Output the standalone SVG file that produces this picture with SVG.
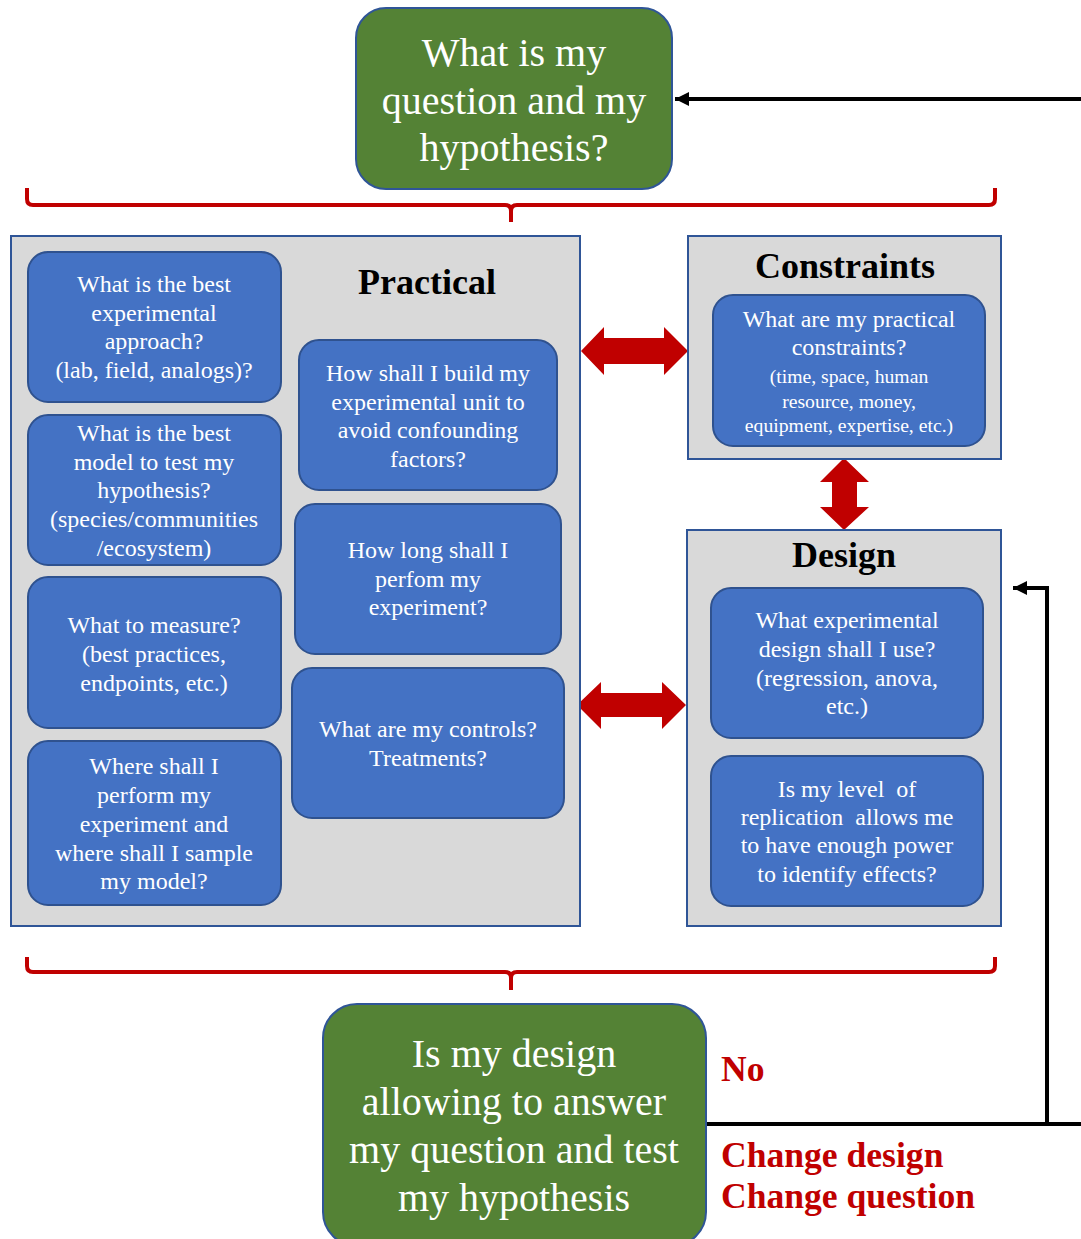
<svg xmlns="http://www.w3.org/2000/svg" width="1081" height="1239" viewBox="0 0 1081 1239">
<style>
.panel{fill:#D9D9D9;stroke:#2F5597;stroke-width:2}
.blue{fill:#4472C4;stroke:#2F528F;stroke-width:2}
.green{fill:#548235;stroke:#2F5597;stroke-width:2}
.bt{font-family:"Liberation Serif","Times New Roman",serif;font-size:24px;fill:#FFFFFF;text-anchor:middle}
.st{font-family:"Liberation Serif","Times New Roman",serif;font-size:19.7px;fill:#FFFFFF;text-anchor:middle}
.gt{font-family:"Liberation Serif","Times New Roman",serif;font-size:40px;fill:#FFFFFF;text-anchor:middle}
.title{font-family:"Liberation Serif","Times New Roman",serif;font-size:36px;font-weight:bold;fill:#000000;text-anchor:middle}
.red{font-family:"Liberation Serif","Times New Roman",serif;font-size:35.6px;font-weight:bold;fill:#C00000}
.brace{fill:none;stroke:#C00000;stroke-width:4}
.dbl{fill:#C00000}
.blk{fill:none;stroke:#000000;stroke-width:4}
</style>
<defs>
<marker id="ah" markerUnits="userSpaceOnUse" markerWidth="16" markerHeight="16" refX="14" refY="7" orient="auto">
<path d="M0,0 L14,7 L0,14 Z" fill="#000000"/>
</marker>
</defs>

<g id="connectors">
<path class="brace" d="M27,188 V199 Q27,205 33,205 H505 Q511,205 511,211 V222 M511,211 Q511,205 517,205 H989 Q995,205 995,199 V188"/>
<path class="brace" d="M27,957 V966 Q27,972 33,972 H505 Q511,972 511,978 V990 M511,978 Q511,972 517,972 H989 Q995,972 995,966 V957"/>
<path class="dbl" d="M581,351 L604,327 L604,338 L664,338 L664,327 L688,351 L664,375 L664,364 L604,364 L604,375 Z"/>
<path class="dbl" d="M844,458 L869,482 L857,482 L857,507 L869,507 L844,530 L820,507 L832,507 L832,482 L820,482 Z"/>
<path class="dbl" d="M577,705 L601,682 L601,693 L662,693 L662,682 L686,705 L662,729 L662,717 L601,717 L601,729 Z"/>
<path class="blk" d="M1081,99 H675" marker-end="url(#ah)"/>
<path class="blk" d="M706,1124 H1081"/>
<path class="blk" d="M1047,1124 V588 H1013" marker-end="url(#ah)"/>
</g>

<g id="top-question">
<rect class="green" x="356" y="8" width="316" height="181" rx="30"/>
<text class="gt" x="514" y="66">What is my</text>
<text class="gt" x="514" y="114">question and my</text>
<text class="gt" x="514" y="161">hypothesis?</text>
</g>

<g id="practical">
<rect class="panel" x="11" y="236" width="569" height="690"/>
<text class="title" x="427" y="294">Practical</text>
</g>

<g id="approach">
<rect class="blue" x="28" y="252" width="253" height="150" rx="20"/>
<text class="bt" x="154" y="292">What is the best</text>
<text class="bt" x="154" y="321">experimental</text>
<text class="bt" x="154" y="349">approach?</text>
<text class="bt" x="154" y="378">(lab, field, analogs)?</text>
</g>

<g id="model">
<rect class="blue" x="28" y="415" width="253" height="150" rx="20"/>
<text class="bt" x="154" y="441">What is the best</text>
<text class="bt" x="154" y="470">model to test my</text>
<text class="bt" x="154" y="498">hypothesis?</text>
<text class="bt" x="154" y="527">(species/communities</text>
<text class="bt" x="154" y="556">/ecosystem)</text>
</g>

<g id="measure">
<rect class="blue" x="28" y="577" width="253" height="151" rx="20"/>
<text class="bt" x="154" y="633">What to measure?</text>
<text class="bt" x="154" y="662">(best practices,</text>
<text class="bt" x="154" y="691">endpoints, etc.)</text>
</g>

<g id="where">
<rect class="blue" x="28" y="741" width="253" height="164" rx="20"/>
<text class="bt" x="154" y="774">Where shall I</text>
<text class="bt" x="154" y="803">perform my</text>
<text class="bt" x="154" y="832">experiment and</text>
<text class="bt" x="154" y="861">where shall I sample</text>
<text class="bt" x="154" y="889">my model?</text>
</g>

<g id="build">
<rect class="blue" x="299" y="340" width="258" height="150" rx="20"/>
<text class="bt" x="428" y="381">How shall I build my</text>
<text class="bt" x="428" y="410">experimental unit to</text>
<text class="bt" x="428" y="438">avoid confounding</text>
<text class="bt" x="428" y="467">factors?</text>
</g>

<g id="duration">
<rect class="blue" x="295" y="504" width="266" height="150" rx="20"/>
<text class="bt" x="428" y="558">How long shall I</text>
<text class="bt" x="428" y="587">perfom my</text>
<text class="bt" x="428" y="615">experiment?</text>
</g>

<g id="controls">
<rect class="blue" x="292" y="668" width="272" height="150" rx="20"/>
<text class="bt" x="428" y="737">What are my controls?</text>
<text class="bt" x="428" y="766">Treatments?</text>
</g>

<g id="constraints">
<rect class="panel" x="688" y="236" width="313" height="223"/>
<text class="title" x="845" y="278">Constraints</text>
<rect class="blue" x="713" y="295" width="272" height="151" rx="20"/>
<text class="bt" x="849" y="327">What are my practical</text>
<text class="bt" x="849" y="355">constraints?</text>
<text class="st" x="849" y="383">(time, space, human</text>
<text class="st" x="849" y="408">resource, money,</text>
<text class="st" x="849" y="432">equipment, expertise, etc.)</text>
</g>

<g id="design">
<rect class="panel" x="687" y="530" width="314" height="396"/>
<text class="title" x="844" y="567">Design</text>
</g>

<g id="exp-design">
<rect class="blue" x="711" y="588" width="272" height="150" rx="20"/>
<text class="bt" x="847" y="628">What experimental</text>
<text class="bt" x="847" y="657">design shall I use?</text>
<text class="bt" x="847" y="686">(regression, anova,</text>
<text class="bt" x="847" y="714">etc.)</text>
</g>

<g id="replication">
<rect class="blue" x="711" y="756" width="272" height="150" rx="20"/>
<text class="bt" x="847" y="797" xml:space="preserve">Is my level  of</text>
<text class="bt" x="847" y="825" xml:space="preserve">replication  allows me</text>
<text class="bt" x="847" y="853">to have enough power</text>
<text class="bt" x="847" y="882">to identify effects?</text>
</g>

<g id="check">
<rect class="green" x="323" y="1004" width="383" height="242" rx="34"/>
<text class="gt" x="514" y="1067">Is my design</text>
<text class="gt" x="514" y="1115">allowing to answer</text>
<text class="gt" x="514" y="1163">my question and test</text>
<text class="gt" x="514" y="1211">my hypothesis</text>
</g>

<g id="labels">
<text class="red" x="721" y="1081">No</text>
<text class="red" x="721" y="1167">Change design</text>
<text class="red" x="721" y="1208">Change question</text>
</g>
</svg>
